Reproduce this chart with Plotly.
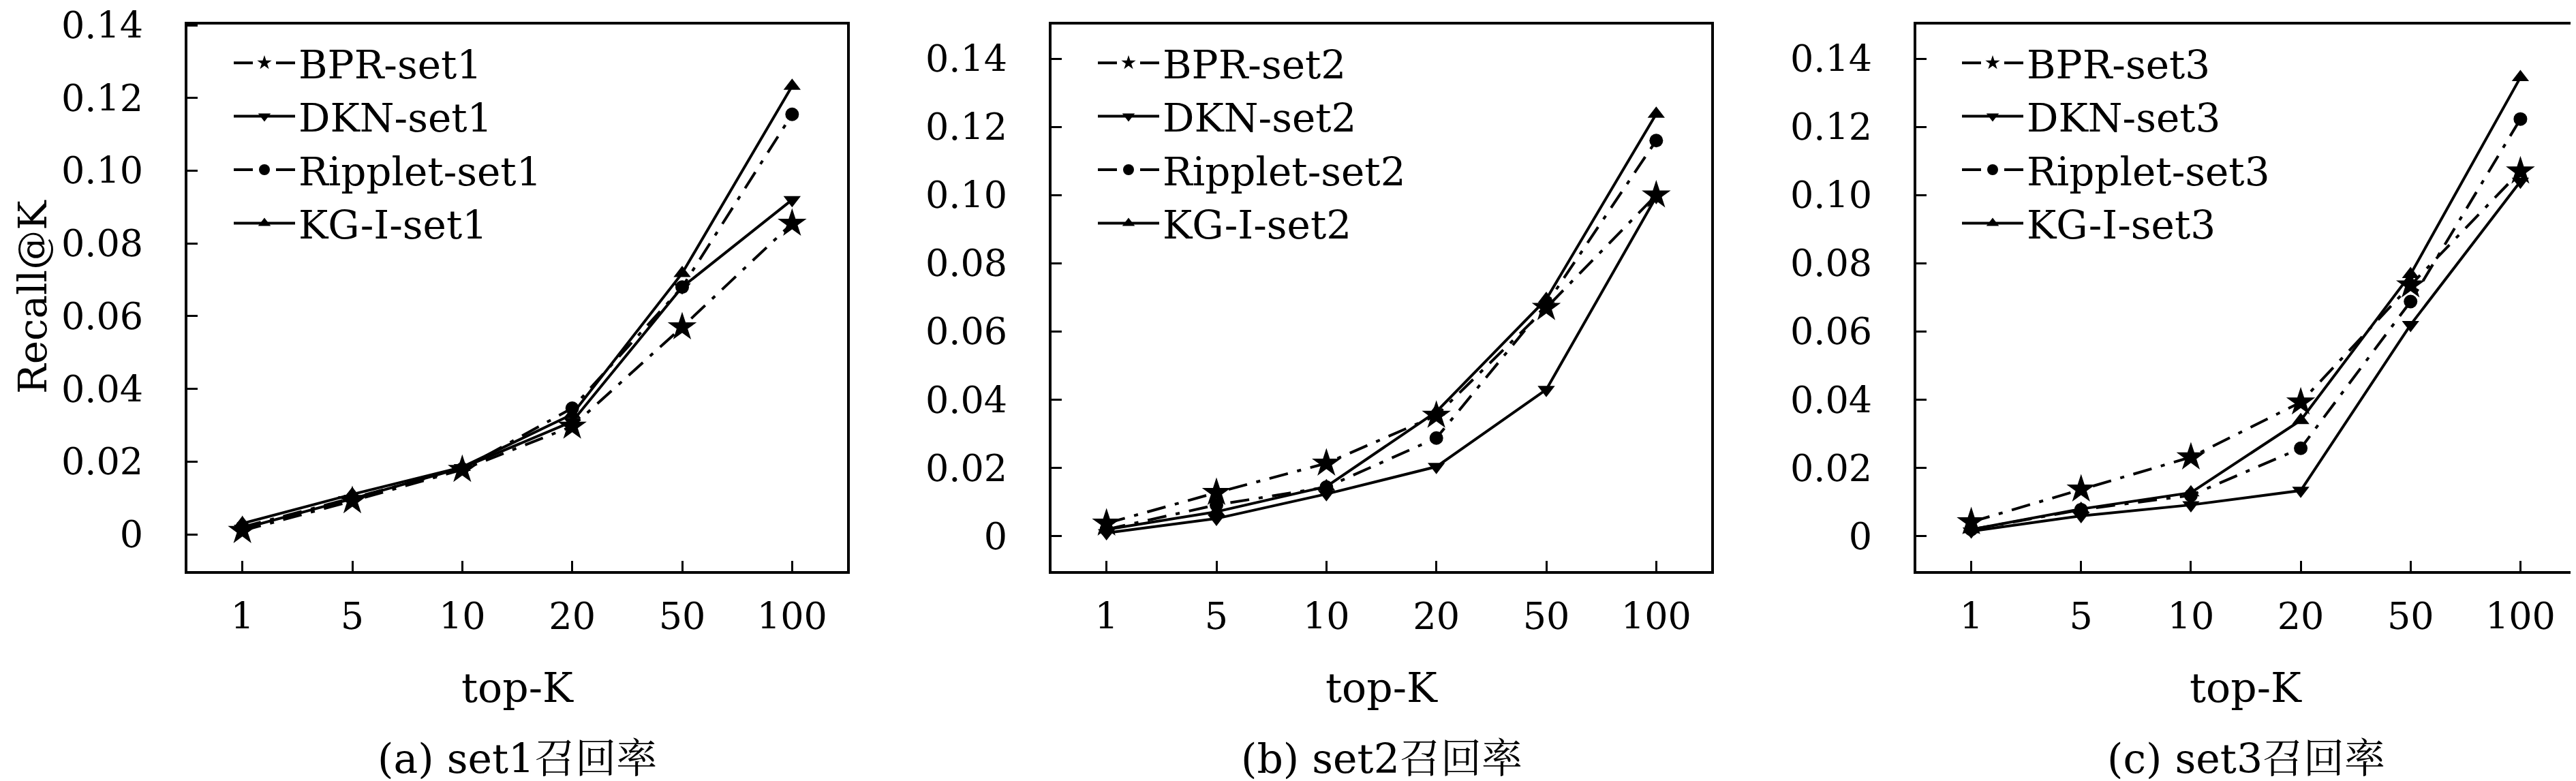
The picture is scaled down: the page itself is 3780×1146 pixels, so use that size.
import plotly.graph_objects as go

# top-K categories
topk = ["1", "5", "10", "20", "50", "100"]

# set1 recall@K
bpr_set1 = [0.0010, 0.0092, 0.0178, 0.0297, 0.0570, 0.0855]
dkn_set1 = [0.0016, 0.0098, 0.0183, 0.0310, 0.0680, 0.0920]
ripplet_set1 = [0.0020, 0.0100, 0.0180, 0.0347, 0.0680, 0.1155]
kgi_set1 = [0.0030, 0.0110, 0.0185, 0.0330, 0.0718, 0.1233]

# set2 recall@K
bpr_set2 = [0.0038, 0.0128, 0.0214, 0.0354, 0.0670, 0.1000]
dkn_set2 = [0.0010, 0.0052, 0.0124, 0.0204, 0.0430, 0.0995]
ripplet_set2 = [0.0020, 0.0092, 0.0144, 0.0288, 0.0680, 0.1160]
kgi_set2 = [0.0020, 0.0072, 0.0146, 0.0365, 0.0695, 0.1238]

# set3 recall@K
bpr_set3 = [0.0042, 0.0138, 0.0232, 0.0393, 0.0736, 0.1070]
dkn_set3 = [0.0015, 0.0060, 0.0092, 0.0134, 0.0620, 0.1040]
ripplet_set3 = [0.0020, 0.0078, 0.0120, 0.0258, 0.0688, 0.1223]
kgi_set3 = [0.0020, 0.0080, 0.0128, 0.0340, 0.0768, 0.1345]

ytick_vals = [0, 0.02, 0.04, 0.06, 0.08, 0.10, 0.12, 0.14]
ytick_text = ["0", "0.02", "0.04", "0.06", "0.08", "0.10", "0.12", "0.14"]

W, H = 3780, 1146
FONT = "'DejaVu Serif', 'Noto Serif CJK SC', 'Noto Sans CJK SC', serif"
DASHDOT = "28px,14px,6px,14px"

panels = [
    ("set1", [bpr_set1, dkn_set1, ripplet_set1, kgi_set1], (267, 1235), [-0.0101, 0.1402], "(a) set1召回率"),
    ("set2", [bpr_set2, dkn_set2, ripplet_set2, kgi_set2], (1535, 2503), [-0.0102, 0.150], "(b) set2召回率"),
    ("set3", [bpr_set3, dkn_set3, ripplet_set3, kgi_set3], (2804, 3771), [-0.0102, 0.150], "(c) set3召回率"),
]

# name, marker symbol, marker size, dash
styles = [
    ("BPR", "star", 32, DASHDOT),
    ("DKN", "triangle-down", 22, "solid"),
    ("Ripplet", "circle", 20, DASHDOT),
    ("KG-I", "triangle-up", 22, "solid"),
]

box_top, box_bottom = 28, 830
ydom = [1 - box_bottom / H, 1 - box_top / H]

fig = go.Figure()
annotations = []
legend_x = [338, 1606, 2874]


def label(text, x, y, size=60, **kw):
    return dict(text=text, x=x / W, y=1 - y / H, xref="paper", yref="paper",
                xanchor="center", yanchor="middle", showarrow=False,
                font=dict(family=FONT, size=size, color="black"), **kw)


for i, (setname, series, (x0, x1), yr, subtitle) in enumerate(panels):
    sfx = "" if i == 0 else str(i + 1)
    for (name, sym, size, dash), vals in zip(styles, series):
        fig.add_trace(go.Scatter(
            x=topk, y=vals, mode="lines+markers",
            name=f"{name}-{setname}",
            xaxis="x" + sfx, yaxis="y" + sfx,
            legend="legend" + sfx,
            line=dict(color="black", width=4, dash=dash),
            marker=dict(symbol=sym, size=size, color="black"),
        ))

    axis_common = dict(
        showline=True, linecolor="black", linewidth=4, mirror=True,
        ticks="inside", ticklen=15, tickwidth=3, tickcolor="black",
        showgrid=False, zeroline=False, automargin=False,
        ticklabeloverflow="allow",
        tickfont=dict(family=FONT, size=54, color="black"),
    )
    fig.update_layout({
        "xaxis" + sfx: dict(
            domain=[x0 / W, x1 / W], anchor="y" + sfx,
            type="category", categoryorder="array", categoryarray=topk,
            range=[-0.5, 5.5], ticklabelstandoff=16, **axis_common),
        "yaxis" + sfx: dict(
            domain=ydom, anchor="x" + sfx, range=yr,
            tickvals=ytick_vals, ticktext=ytick_text,
            ticklabelstandoff=50, **axis_common),
        "legend" + sfx: dict(
            x=(legend_x[i] - 8) / W, y=1 - 40 / H,
            xanchor="left", yanchor="top",
            bgcolor="rgba(0,0,0,0)", borderwidth=0,
            itemwidth=90,
            font=dict(family=FONT, size=58, color="black"),
        ),
    })

    xc = (x0 + x1) / 2
    annotations.append(label("top-K", xc, 1001))
    annotations.append(label(subtitle, xc, 1105))

annotations.append(label("Recall@K", 40, 428, size=58, textangle=-90))

fig.update_layout(
    width=W, height=H,
    margin=dict(l=0, r=0, t=0, b=0, autoexpand=False),
    paper_bgcolor="white", plot_bgcolor="white",
    annotations=annotations,
)

fig.write_html("out.html")
